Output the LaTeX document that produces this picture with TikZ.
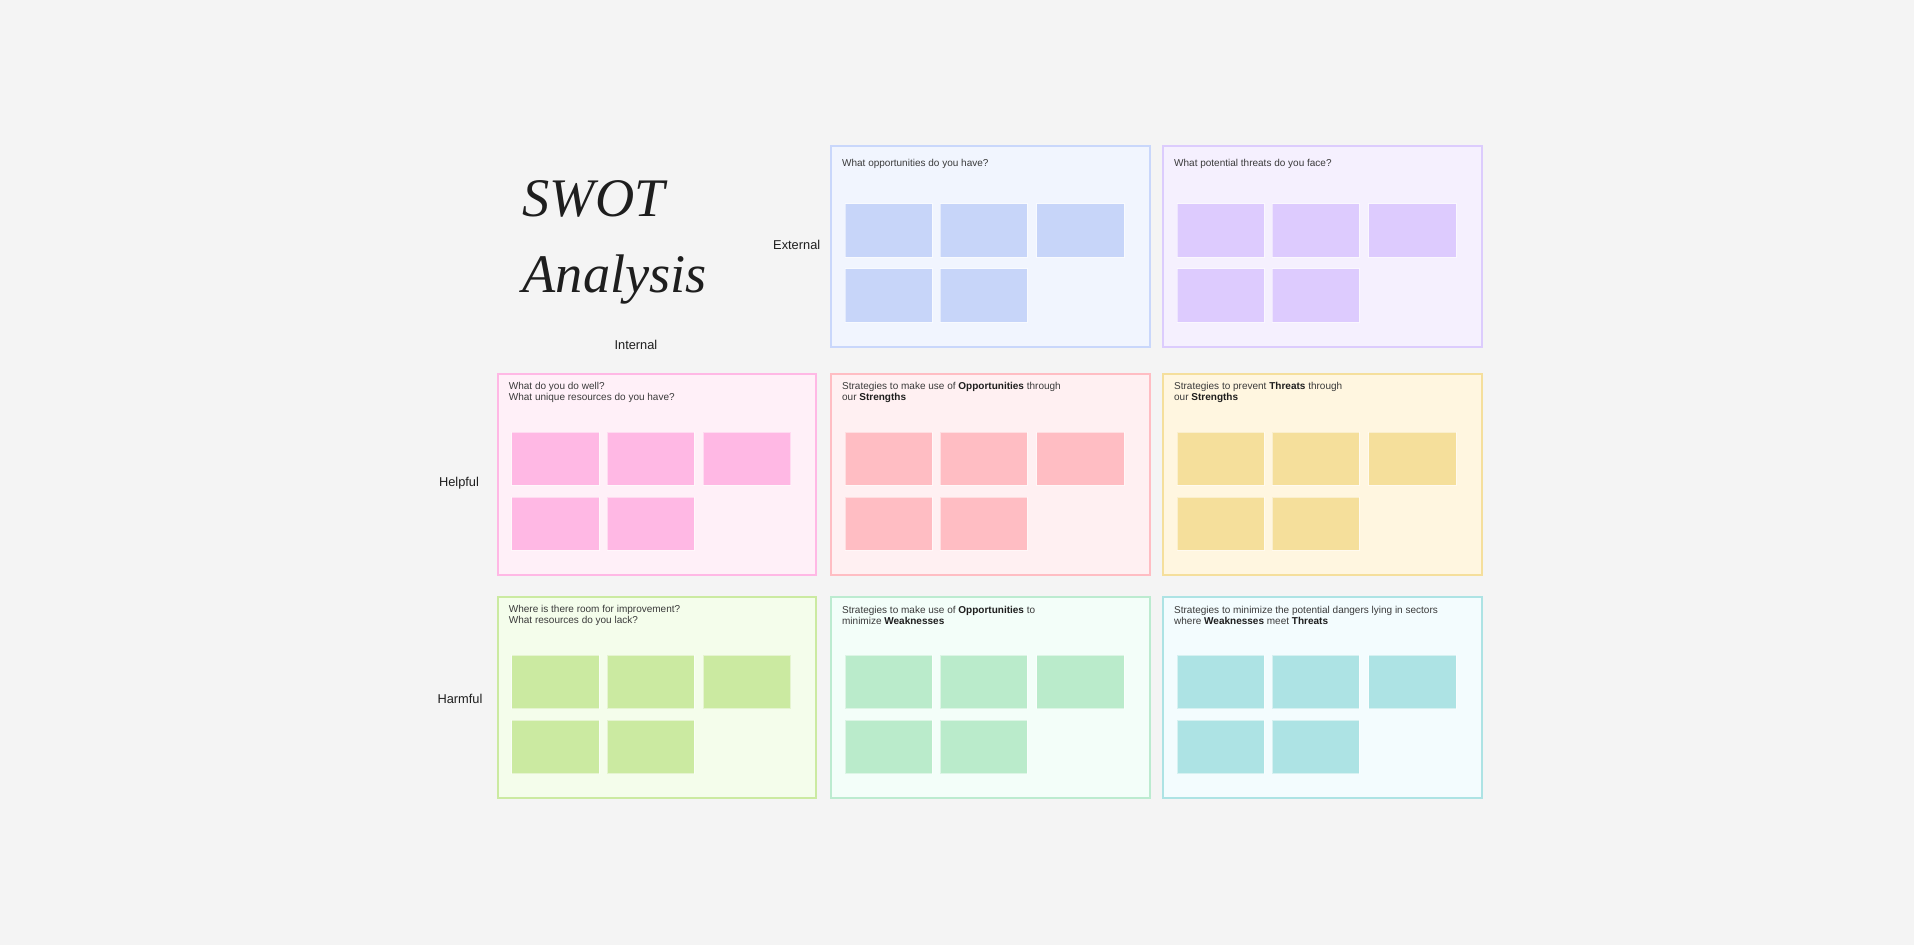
\documentclass[tikz,border=0pt]{standalone}
\usepackage{fontspec}
\setmainfont{Liberation Sans}
\newfontfamily\titlefont{Liberation Serif}
\definecolor{bg}{HTML}{F4F4F4}
\definecolor{ofill}{HTML}{F1F5FE}\definecolor{oline}{HTML}{C9D7FB}\definecolor{onote}{HTML}{C7D5F9}
\definecolor{tfill}{HTML}{F5F0FE}\definecolor{tline}{HTML}{DCCCFD}\definecolor{tnote}{HTML}{DDCBFE}
\definecolor{sfill}{HTML}{FFF0F8}\definecolor{sline}{HTML}{FFB8E5}\definecolor{snote}{HTML}{FFB8E4}
\definecolor{sofill}{HTML}{FFF0F2}\definecolor{soline}{HTML}{FFBDC3}\definecolor{sonote}{HTML}{FFBDC3}
\definecolor{stfill}{HTML}{FFF6E0}\definecolor{stline}{HTML}{F5DF9C}\definecolor{stnote}{HTML}{F5DF9B}
\definecolor{wfill}{HTML}{F4FDEB}\definecolor{wline}{HTML}{CBEAA1}\definecolor{wnote}{HTML}{CBEAA1}
\definecolor{wofill}{HTML}{F3FEF9}\definecolor{woline}{HTML}{BCEBD0}\definecolor{wonote}{HTML}{BAEBCB}
\definecolor{wtfill}{HTML}{F3FCFE}\definecolor{wtline}{HTML}{ADE3E4}\definecolor{wtnote}{HTML}{ADE3E4}
\definecolor{hdrtext}{HTML}{3A3A3A}
\definecolor{dark}{HTML}{1E1E1E}
\newcommand\hb[1]{{\bfseries\color{dark}#1}}
\newcommand\swotquad[5]{%
  \node[quad, draw=#4line, fill=#4fill] (#1) at (#2,#3) {};
  \node[hdr] (#1-t) at ([xshift=8.7pt,yshift=-15.2pt]#1.north west) {#5};
  \foreach \dx/\dy/\k in {10.9/47.3/1, 89/47.3/2, 168/47.3/3, 10.9/100.5/4, 89/100.5/5}
    \node[note, fill=#4note] (#1-\k) at ([xshift=\dx pt, yshift=-\dy pt]#1.north west) {};
}
\begin{document}
\begin{tikzpicture}[x=1pt,y=-1pt,
  quad/.style={anchor=north west, minimum width=260.8pt, minimum height=164.7pt, inner sep=0pt, outer sep=0pt, line width=1.7pt, rectangle},
  note/.style={anchor=north west, minimum width=71.5pt, minimum height=43.7pt, inner sep=0pt, draw=white, draw opacity=0.5, line width=0.4pt, rectangle},
  hdr/.style={anchor=west, align=left, inner sep=0pt, text=hdrtext, font=\fontsize{8.2}{8.9}\selectfont},
  axis/.style={inner sep=0pt, text=dark, font=\fontsize{10.5}{12}\selectfont},
  ttl/.style={anchor=base west, inner sep=0pt, text=dark, font=\titlefont\itshape\fontsize{44.5}{50}\selectfont}]
\fill[bg] (0,0) rectangle (1568,774);
\useasboundingbox (0,0) rectangle (1568,774);

\node[ttl] (title1) at (428,177) {SWOT};
\node[ttl] (title2) at (428,239.5) {Analysis};

\node[axis] (ext) at (652.7,200.5) {External};
\node[axis] (int) at (521,282.4) {Internal};
\node[axis] (help) at (376,396) {Helpful};
\node[axis] (harm) at (376.8,572.9) {Harmful};

\swotquad{O}{681}{119.3}{o}{What opportunities do you have?}
\swotquad{T}{953}{119.3}{t}{What potential threats do you face?}
\swotquad{S}{408}{306.3}{s}{What do you do well?\\What unique resources do you have?}
\swotquad{SO}{681}{306.3}{so}{Strategies to make use of \hb{Opportunities} through\\our \hb{Strengths}}
\swotquad{ST}{953}{306.3}{st}{Strategies to prevent \hb{Threats} through\\our \hb{Strengths}}
\swotquad{W}{408}{489.3}{w}{Where is there room for improvement?\\What resources do you lack?}
\swotquad{WO}{681}{489.3}{wo}{Strategies to make use of \hb{Opportunities} to\\minimize \hb{Weaknesses}}
\swotquad{WT}{953}{489.3}{wt}{Strategies to minimize the potential dangers lying in sectors\\where \hb{Weaknesses} meet \hb{Threats}}
\end{tikzpicture}
\end{document}
